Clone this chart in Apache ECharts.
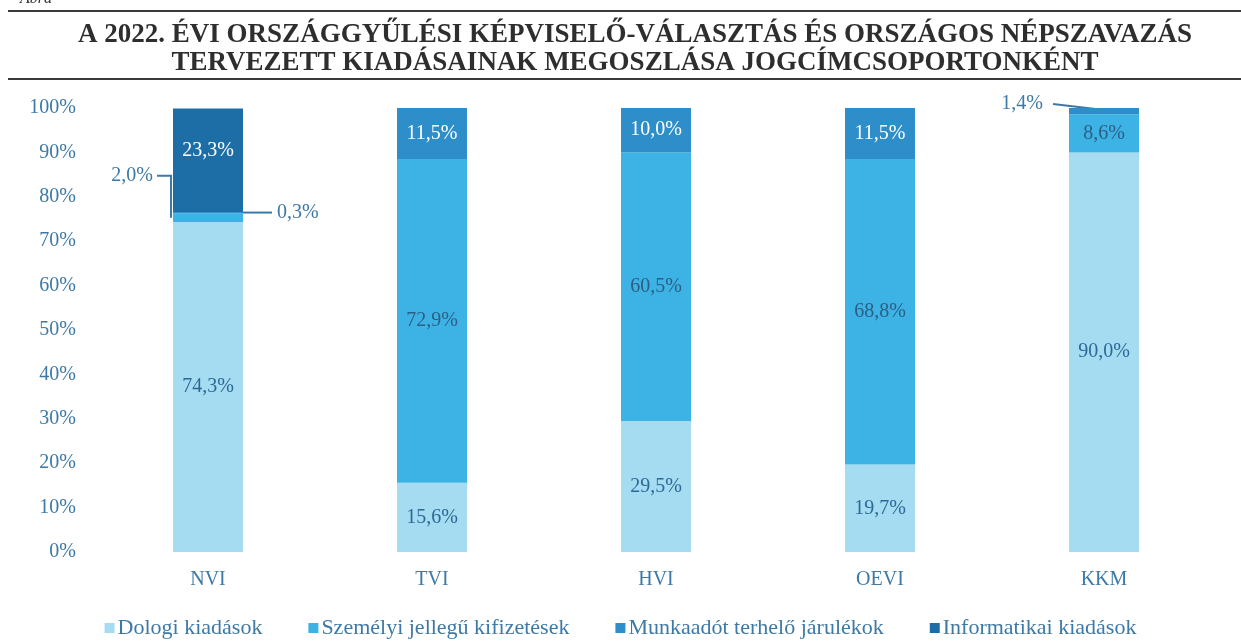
<!DOCTYPE html>
<html>
<head>
<meta charset="utf-8">
<script src="https://cdn.jsdelivr.net/npm/echarts@6/dist/echarts.min.js"></script>
<style>
  html, body { margin: 0; padding: 0; background: #fff; }
  #main { width: 1241px; height: 641px; }
</style>
</head>
<body>
<div id="main"></div>
<script>
var categories = ['NVI', 'TVI', 'HVI', 'OEVI', 'KKM'];
var seriesNames = ['Dologi kiadások', 'Személyi jellegű kifizetések', 'Munkaadót terhelő járulékok', 'Informatikai kiadások'];
var dologi = [74.3, 15.6, 29.5, 19.7, 90.0];
var szemelyi = [2.0, 72.9, 60.5, 68.8, 8.6];
var munkaado = [0.3, 11.5, 10.0, 11.5, 1.4];
var informatikai = [23.3, 0, 0, 0, 0];
var yTicks = [0, 10, 20, 30, 40, 50, 60, 70, 80, 90, 100];

var colors = ['#a6dcf2', '#3db3e5', '#2d8ec9', '#1d6ea6'];
var labelColors = ['#2b6a96', '#2b5f86', '#ffffff', '#ffffff'];
var serif = '"Liberation Serif", "DejaVu Serif", serif';
var blue = '#3d79a6';
var BAR_W = 70;

function fmt(v) { return v.toFixed(1).replace('.', ',') + '%'; }

// kis szeletek címkéi kívül, vezetővonallal
var outside = {
  '1-0': { position: 'left', distance: 20, offset: [0, -42] },
  '2-0': { position: 'right', distance: 34, offset: [0, 0] },
  '2-4': { position: 'left', distance: 26, offset: [0, -7] }
};

var allData = [dologi, szemelyi, munkaado, informatikai];

function buildSeries() {
  return allData.map(function (arr, si) {
    return {
      name: seriesNames[si],
      type: 'bar',
      stack: 'total',
      barWidth: BAR_W,
      itemStyle: { color: colors[si] },
      data: arr.map(function (v, ci) {
        var item = { value: v };
        var o = outside[si + '-' + ci];
        if (v === 0) {
          item.label = { show: false };
        } else if (o) {
          item.label = {
            show: true, position: o.position, distance: o.distance, offset: o.offset,
            color: blue
          };
        } else if (si === 3) {
          item.label = { offset: [0, -9] };
        }
        return item;
      }),
      label: {
        show: true,
        position: 'inside',
        color: labelColors[si],
        fontFamily: serif,
        fontSize: 20,
        formatter: function (p) { return fmt(p.value); }
      }
    };
  });
}

var myChart = echarts.init(document.getElementById('main'));

var option = {
  backgroundColor: '#ffffff',
  animation: false,
  title: {
    text: 'A 2022. ÉVI ORSZÁGGYŰLÉSI KÉPVISELŐ-VÁLASZTÁS ÉS ORSZÁGOS NÉPSZAVAZÁS\nTERVEZETT KIADÁSAINAK MEGOSZLÁSA JOGCÍMCSOPORTONKÉNT',
    left: 630,
    top: 16,
    textAlign: 'center',
    textStyle: {
      fontFamily: serif,
      fontWeight: 'bold',
      fontSize: 27,
      lineHeight: 28,
      color: '#2e2e2e'
    }
  },
  legend: {
    bottom: -3,
    left: 'center',
    itemWidth: 10,
    itemHeight: 10,
    itemGap: 46,
    icon: 'rect',
    textStyle: { fontFamily: serif, fontSize: 22, color: blue, padding: [0, 0, 0, -2] },
    data: seriesNames
  },
  grid: { left: 96, right: 25, top: 108, bottom: 89 },
  xAxis: {
    type: 'category',
    data: categories,
    axisLine: { show: false },
    axisTick: { show: false },
    axisLabel: { fontFamily: serif, fontSize: 20, color: blue, margin: 18 }
  },
  yAxis: {
    type: 'value',
    min: 0,
    max: 100,
    interval: 10,
    splitLine: { show: false },
    axisLine: { show: false },
    axisTick: { show: false },
    axisLabel: {
      fontFamily: serif, fontSize: 20, color: blue, margin: 20,
      formatter: function (v) { return yTicks.indexOf(v) >= 0 ? v + '%' : ''; }
    }
  },
  series: buildSeries(),
  graphic: [
    { type: 'line', shape: { x1: 8, y1: 11, x2: 1241, y2: 11 }, style: { stroke: '#3a3a3a', lineWidth: 2 } },
    { type: 'line', shape: { x1: 8, y1: 79, x2: 1241, y2: 79 }, style: { stroke: '#3a3a3a', lineWidth: 2 } },
    { type: 'text', left: 20, top: -9, style: { text: 'Ábra', fontFamily: serif, fontStyle: 'italic', fontSize: 16, fill: '#333' } }
  ]
};

myChart.setOption(option);

// vezetővonalak a kis szeletekhez
function px(ci, v) { return myChart.convertToPixel({ gridIndex: 0 }, [ci, v]); }
var lines = [];
(function () {
  // NVI 2,0%
  var mid = px(0, dologi[0] + szemelyi[0] / 2);
  var left = mid[0] - BAR_W / 2;
  lines.push([[left - 16, mid[1] - 42], [left - 2, mid[1] - 42], [left - 2, mid[1]]]);
  // NVI 0,3%
  var p = px(0, dologi[0] + szemelyi[0] + munkaado[0] / 2);
  var right = p[0] + BAR_W / 2;
  lines.push([[right, p[1]], [right + 29, p[1]]]);
  // KKM 1,4%
  var k = px(4, dologi[4] + szemelyi[4] + munkaado[4] / 2);
  lines.push([[k[0] - BAR_W / 2 - 16, k[1] - 7], [k[0], k[1] - 1]]);
})();

myChart.setOption({
  graphic: option.graphic.concat(lines.map(function (pts) {
    return { type: 'polyline', shape: { points: pts }, style: { stroke: blue, lineWidth: 2, fill: null } };
  }))
});
</script>
</body>
</html>
